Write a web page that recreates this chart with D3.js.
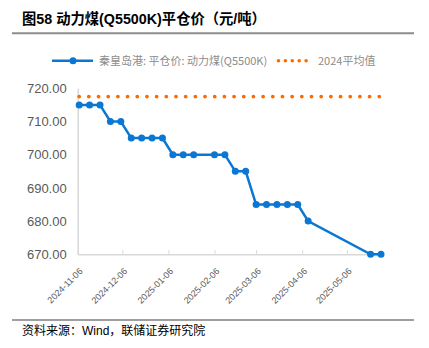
<!DOCTYPE html>
<html><head><meta charset="utf-8">
<script src="https://cdn.jsdelivr.net/npm/d3@7"></script>
<style>body{margin:0;background:#fff}svg{display:block}</style>
</head><body>
<svg id="c" width="429" height="348"></svg>
<script>
const dates = ["2024-11-07","2024-11-14","2024-11-21","2024-11-28","2024-12-05","2024-12-12","2024-12-19","2024-12-26","2025-01-02","2025-01-09","2025-01-16","2025-01-23","2025-02-06","2025-02-13","2025-02-20","2025-02-27","2025-03-06","2025-03-13","2025-03-20","2025-03-27","2025-04-03","2025-04-10","2025-05-22","2025-05-29"];
const prices = [715,715,715,710,710,705,705,705,705,700,700,700,700,700,695,695,685,685,685,685,685,680,670,670];
const avg2024 = 717.5;
const xTicks = ["2024-11-06","2024-12-06","2025-01-06","2025-02-06","2025-03-06","2025-04-06","2025-05-06"];
const yTicks = [670,680,690,700,710,720];
const seriesName = "秦皇岛港: 平仓价: 动力煤(Q5500K)";
const avgName = "2024平均值";
const title = "图58 动力煤(Q5500K)平仓价（元/吨）";
const source = "资料来源：Wind，联储证券研究院";

const parse = d3.timeParse("%Y-%m-%d");
const svg = d3.select("#c");
const x = d3.scaleTime().domain([parse("2024-11-06"), parse("2025-05-29")]).range([77.7, 381]);
const y = d3.scaleLinear().domain([670,720]).range([254.3, 88.3]);

// title
svg.append("text").attr("x",22).attr("y",24).attr("font-family","Liberation Sans, Noto Sans CJK SC, sans-serif")
  .attr("font-weight","bold").attr("font-size",14.3).attr("fill","#000").text(title);
svg.append("line").attr("x1",12).attr("x2",414).attr("y1",33.3).attr("y2",33.3).attr("stroke","#8c8c8c").attr("stroke-width",2);

// legend
const leg = svg.append("g");
leg.append("line").attr("x1",52).attr("x2",93).attr("y1",60.7).attr("y2",60.7).attr("stroke","#0a78d2").attr("stroke-width",2.5);
leg.append("circle").attr("cx",73).attr("cy",60.7).attr("r",3.5).attr("fill","#0a78d2");
leg.append("text").attr("x",99).attr("y",64.5).attr("font-family","Noto Sans CJK SC, sans-serif").attr("font-size",11).attr("fill","#8c8c8c").text(seriesName);
leg.append("line").attr("x1",278.5).attr("x2",313).attr("y1",60.7).attr("y2",60.7).attr("stroke","#ff6a00").attr("stroke-width",3.6)
  .attr("stroke-linecap","round").attr("stroke-dasharray","0 6.9");
leg.append("text").attr("x",318).attr("y",64.5).attr("font-family","Noto Sans CJK SC, sans-serif").attr("font-size",11).attr("fill","#8c8c8c").text(avgName);

// y axis
const ya = svg.append("g").attr("transform","translate(77.7,0)")
  .call(d3.axisLeft(y).tickValues(yTicks).tickFormat(d3.format(".2f")).tickSize(0).tickPadding(11));
ya.select(".domain").attr("stroke","#d9d9d9").attr("stroke-width",1.5);
ya.selectAll("text").attr("font-family","Liberation Sans, Arial, sans-serif").attr("font-size",13).attr("fill","#595959");

// x axis
const xa = svg.append("g").attr("transform","translate(0,254.3)")
  .call(d3.axisBottom(x).tickValues(xTicks.map(parse)).tickFormat(d3.timeFormat("%Y-%m-%d")).tickSize(4).tickSizeOuter(0));
xa.select(".domain").attr("stroke","#d9d9d9").attr("stroke-width",1.5);
xa.selectAll(".tick line").attr("stroke","#d9d9d9").attr("stroke-width",1).attr("transform","translate(0,-4)");
xa.selectAll("text").attr("font-family","Liberation Sans, Arial, sans-serif").attr("font-size",9).attr("fill","#595959")
  .attr("text-anchor","end").attr("x",0).attr("y",0).attr("dy",0).attr("transform","translate(5,17.5) rotate(-45)");

// avg line
const dAll = dates.map(parse);
svg.append("line").attr("x1",x(dAll[0])).attr("x2",x(dAll[dAll.length-1])-1).attr("y1",y(avg2024)).attr("y2",y(avg2024))
  .attr("stroke","#ff6a00").attr("stroke-width",3.8).attr("stroke-linecap","round").attr("stroke-dasharray","0 9.68");

// series
const data = dates.map((d,i)=>({d:parse(d), v:prices[i]}));
svg.append("path").datum(data).attr("fill","none").attr("stroke","#0a78d2").attr("stroke-width",2.5)
  .attr("d", d3.line().x(p=>x(p.d)).y(p=>y(p.v)));
svg.selectAll(".pt").data(data).enter().append("circle").attr("cx",p=>x(p.d)).attr("cy",p=>y(p.v)).attr("r",3.5).attr("fill","#0a78d2");

// source
svg.append("line").attr("x1",12).attr("x2",414).attr("y1",320).attr("y2",320).attr("stroke","#404040").attr("stroke-width",1.2);
svg.append("text").attr("x",22).attr("y",334.5).attr("font-family","Liberation Sans, Noto Sans CJK SC, sans-serif").attr("font-size",12).attr("fill","#000").text(source);
</script>
</body></html>
